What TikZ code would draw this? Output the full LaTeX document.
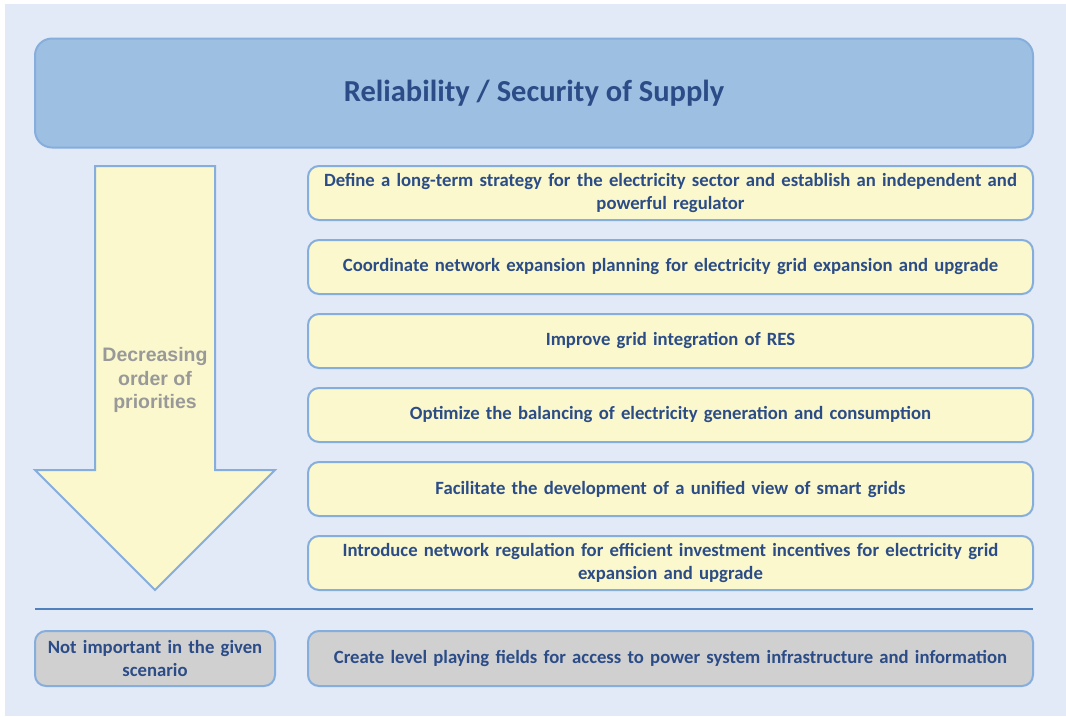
\documentclass[tikz,border=0pt]{standalone}
\usepackage{fontspec}
\setmainfont{Carlito}
\newfontfamily\arialfont{Liberation Sans}
\usetikzlibrary{positioning}
\usepackage{xcolor}
\definecolor{panelbg}{HTML}{E2E9F7}
\definecolor{titlefill}{HTML}{9DBFE2}
\definecolor{boxline}{HTML}{86AEDD}
\definecolor{itemfill}{HTML}{FAF8CC}
\definecolor{greyfill}{HTML}{D0D0D0}
\definecolor{textblue}{HTML}{2B4C87}
\definecolor{rulecol}{HTML}{4F81BD}
\def\itemsep{74}

\begin{document}
\begin{tikzpicture}[x=1pt, y=-1pt, line width=2pt]
    \tikzstyle{box}=[draw=boxline, rounded corners=11pt, inner sep=0pt, align=center, text=textblue, font=\bfseries\fontsize{18.7}{23.5}\selectfont]
    \tikzstyle{title box}=[box, fill=titlefill, rounded corners=17pt, minimum width=998pt, minimum height=109pt, font=\bfseries\fontsize{30.5}{34}\selectfont]
    \tikzstyle{item box}=[box, fill=itemfill, minimum width=725pt, minimum height=54pt, text width=715pt]
    \tikzstyle{grey box}=[box, fill=greyfill, minimum height=55pt]

    % Page and panel
    \useasboundingbox[fill=white] (0,0) rectangle (1066,716);
    \fill[panelbg] (5,4) rectangle (1066,716);

    % Draw the title
    \node[title box] (title) at (534,93) {Reliability / Security of Supply};

    % Draw the priority arrow
    \draw[draw=boxline, fill=itemfill, line width=2pt]
        (95,166) -- (215,166) -- (215,470) -- (275,470) -- (155,590)
        -- (35,470) -- (95,470) -- cycle;
    \node[align=center, text=black!40, font=\arialfont\bfseries\fontsize{19.5}{23.5}\selectfont]
        (order) at (155,380) {Decreasing\\order of\\priorities};

    % Draw the measures in decreasing order
    \foreach \name / \txt in {1/{Define a long-term strategy for the electricity sector and establish an independent and\\powerful regulator},
                             2/{Coordinate network expansion planning for electricity grid expansion and upgrade},
                             3/{Improve grid integration of RES},
                             4/{Optimize the balancing of electricity generation and consumption},
                             5/{Facilitate the development of a unified view of smart grids},
                             6/{Introduce network regulation for efficient investment incentives for electricity grid\\expansion and upgrade}}
        \node[item box] (M-\name) at (670.5,193 + \itemsep*\name - \itemsep) {\txt};

    % Separator
    \coordinate (rule-l) at (35,609);
    \coordinate (rule-r) at (1033,609);
    \draw[rulecol, line width=1.2pt] (rule-l) -- (rule-r);

    % Draw the measure that is not important
    \node[grey box, minimum width=240pt, text width=236pt] (N) at (155,658.5) {Not important in the given\\scenario};
    \node[grey box, minimum width=725pt, text width=715pt] (M-7) at (670.5,658.5)
        {Create level playing fields for access to power system infrastructure and information};
\end{tikzpicture}
\end{document}
